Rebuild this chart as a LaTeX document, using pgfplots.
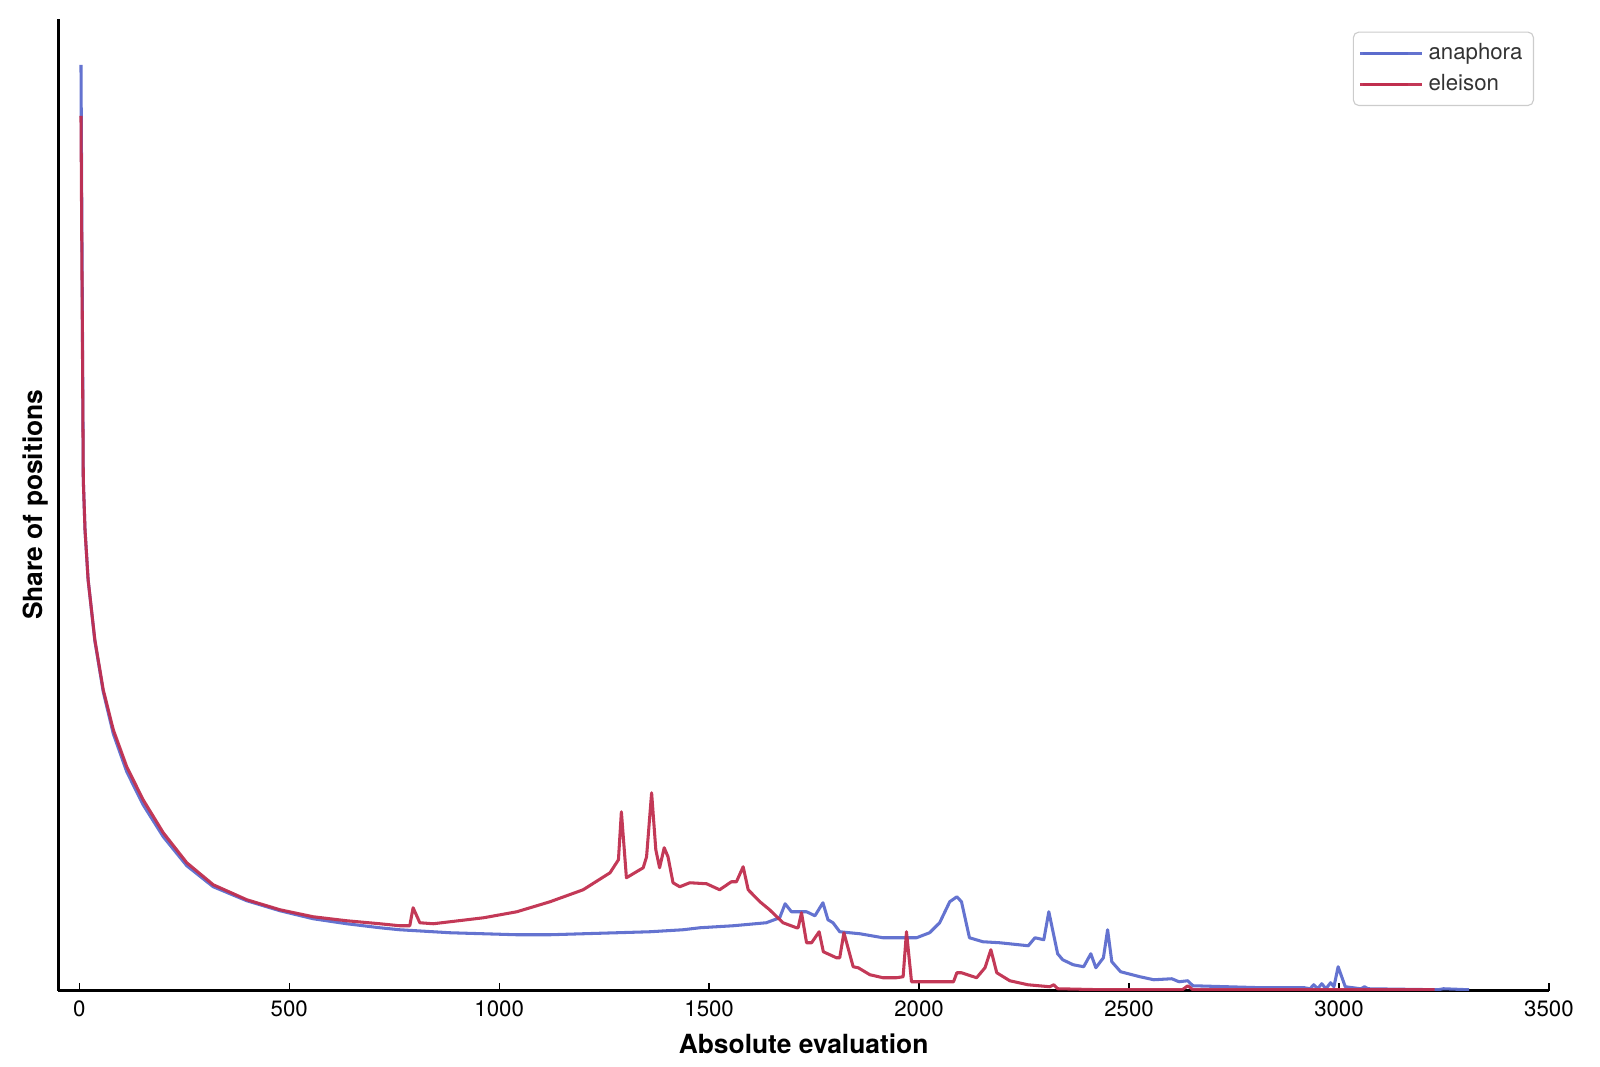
\documentclass[border=0pt]{standalone}
\usepackage{pgfplots}
\pgfplotsset{compat=1.18}
\usepackage{fontspec}
\setmainfont{TeX Gyre Heros}

\definecolor{anaph}{RGB}{92,108,205}
\definecolor{eleis}{RGB}{192,46,78}

\begin{document}
\begin{tikzpicture}
% page = 1600 x 1067 px, 1 px = 0.36 pt
\path[use as bounding box] (-21pt,-27.4pt) rectangle (555.2pt,356.8pt);
\begin{axis}[
  width=536.8pt, height=350pt,
  scale only axis,
  xmin=-50, xmax=3500,
  ymin=0, ymax=0.0972,
  axis x line=bottom,
  axis y line=left,
  axis line style={-, line width=0.9pt, black},
  xtick={0,500,...,3500},
  ytick=\empty,
  tick align=inside,
  major tick length=2.8pt,
  tick style={black, line width=0.5pt},
  /pgf/number format/assume math mode=true,
  /pgf/number format/1000 sep={},
  ticklabel style={font=\fontsize{8}{9}\selectfont},
  xlabel={\textbf{Absolute evaluation}},
  ylabel={\textbf{Share of positions}},
  label style={font=\fontsize{9.5}{11}\selectfont},
  xlabel style={at={(axis description cs:0.5,0)}, anchor=center, yshift=-19pt},
  ylabel style={at={(axis description cs:-0.0156,0.5)}, anchor=center},
  legend style={at={(0.990,0.987)}, anchor=north east,
    draw=black!20, rounded corners=2pt, fill=white,
    font=\fontsize{8}{9}\selectfont, text=black!80,
    inner xsep=2pt, inner ysep=2pt, row sep=-0.2pt},
  legend cell align=left,
  legend image code/.code={\draw[#1, line width=1.1pt] (1pt,0pt) -- (17pt,0pt);
    \path (0pt,0pt) -- (22pt,0pt);},
  every axis plot/.append style={line width=1.1pt, line join=round},
]
\addplot[anaph, opacity=0.95] table {
x y
4 0.0926
9.5 0.0511
13.6 0.0461
21 0.0411
37 0.0350
57 0.0299
81 0.0257
113 0.0219
152 0.0186
200 0.0154
256 0.0125
319 0.0104
399 0.0090
478 0.0080
557 0.0072
637 0.0067
716 0.0063
763 0.0061
883 0.0058
1042 0.0056
1121 0.0056
1200 0.0057
1280 0.0058
1359 0.0059
1438 0.0061
1478 0.0063
1557 0.0065
1636 0.0068
1668 0.0073
1681 0.0087
1696 0.0079
1732 0.0079
1752 0.0075
1771 0.0088
1783 0.0071
1795 0.0068
1811 0.0059
1859 0.0057
1914 0.0053
1994 0.0053
2025 0.0058
2049 0.0068
2073 0.0089
2090 0.0094
2101 0.0089
2120 0.0053
2152 0.0049
2192 0.0048
2260 0.0045
2276 0.0053
2297 0.0051
2309 0.0079
2330 0.0037
2342 0.0031
2367 0.0026
2392 0.0024
2409 0.0037
2421 0.0023
2439 0.0033
2449 0.0061
2459 0.0029
2480 0.0019
2526 0.0014
2559 0.0011
2602 0.0012
2619 0.0009
2640 0.0010
2652 0.0005
2735 0.0004
2818 0.0003
2918 0.0003
2931 0.0002
2940 0.0006
2949 0.0002
2959 0.0007
2969 0.0002
2980 0.0008
2988 0.0004
2998 0.0024
3015 0.0004
3052 0.0002
3061 0.0004
3069 0.0002
3236 0.0001
3249 0.0002
3310 0.0001
};
\addlegendentry{anaphora}
\addplot[eleis, opacity=0.95] table {
x y
4 0.0875
9.5 0.0511
13.6 0.0461
21 0.0411
37 0.0351
57 0.0301
81 0.0261
113 0.0224
152 0.0191
200 0.0158
256 0.0128
319 0.0106
399 0.0091
478 0.0081
557 0.0074
637 0.0070
716 0.0067
763 0.0065
787 0.0065
795 0.0083
811 0.0068
843 0.0067
883 0.0069
963 0.0073
1042 0.0079
1121 0.0089
1200 0.0101
1264 0.0118
1284 0.0131
1291 0.0179
1303 0.0113
1343 0.0123
1351 0.0134
1363 0.0198
1373 0.0141
1382 0.0123
1393 0.0143
1402 0.0134
1414 0.0108
1430 0.0104
1454 0.0108
1494 0.0107
1525 0.0101
1553 0.0109
1565 0.0109
1581 0.0124
1593 0.0101
1621 0.0089
1644 0.0081
1676 0.0068
1708 0.0063
1712 0.0063
1720 0.0078
1732 0.0048
1744 0.0048
1762 0.0059
1772 0.0039
1803 0.0033
1811 0.0033
1821 0.0058
1843 0.0024
1855 0.0023
1883 0.0016
1914 0.0013
1946 0.0013
1962 0.0014
1970 0.0059
1982 0.0009
2034 0.0009
2082 0.0009
2090 0.0018
2101 0.0018
2137 0.0013
2157 0.0023
2171 0.0041
2185 0.0018
2216 0.0010
2259 0.0006
2311 0.0004
2321 0.0006
2330 0.0002
2437 0.0001
2627 0.0001
2640 0.0005
2652 0.0001
3228 0.0001
};
\addlegendentry{eleison}
\end{axis}
\end{tikzpicture}
\end{document}
